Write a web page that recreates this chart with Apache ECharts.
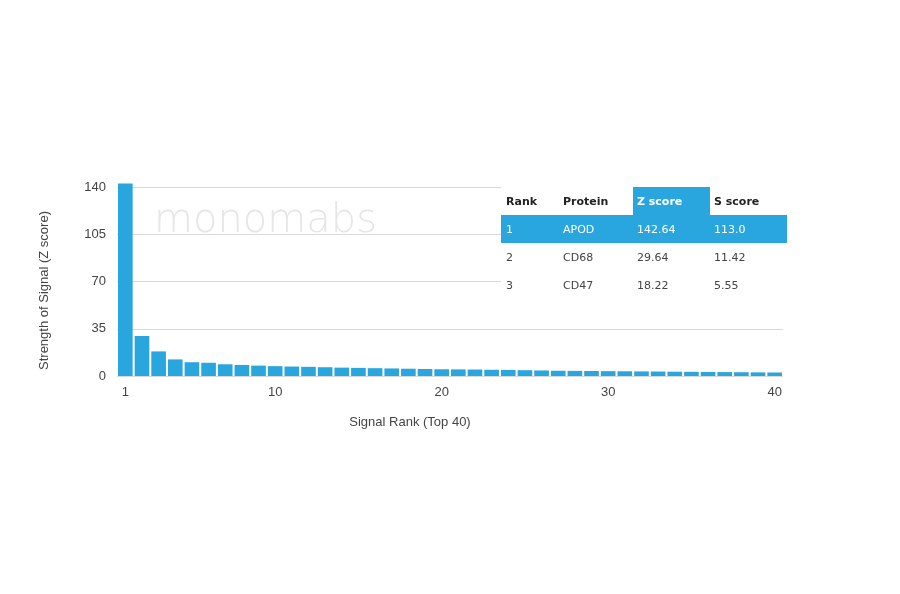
<!DOCTYPE html>
<html>
<head>
<meta charset="utf-8">
<script src="https://cdn.jsdelivr.net/npm/echarts@6/dist/echarts.min.js"></script>
<style>html,body{margin:0;padding:0;background:#fff;}#c{width:900px;height:594px;}</style>
</head>
<body>
<div id="c"></div>
<script>
const ranks = Array.from({length: 40}, (_, i) => String(i + 1));
const zScores = [142.64, 29.64, 18.22, 12.3, 10.2, 9.8, 8.7, 8.2, 7.7, 7.3,
  7.0, 6.8, 6.5, 6.2, 6.0, 5.8, 5.6, 5.4, 5.2, 5.0,
  4.9, 4.8, 4.6, 4.5, 4.3, 4.1, 3.9, 3.8, 3.7, 3.6,
  3.5, 3.4, 3.3, 3.2, 3.1, 3.0, 2.9, 2.8, 2.7, 2.6];
const yTicks = [0, 35, 70, 105, 140];
const xTickLabels = ['1', '10', '20', '30', '40'];
const tableHeader = ['Rank', 'Protein', 'Z score', 'S score'];
const tableRank = ['1', '2', '3'];
const tableProtein = ['APOD', 'CD68', 'CD47'];
const tableZ = ['142.64', '29.64', '18.22'];
const tableS = ['113.0', '11.42', '5.55'];

const blue = '#2aa6df';
const chart = echarts.init(document.getElementById('c'));

// table graphic
const tX = 501, tY = 187, tW = 286, rowH = 28;
const colX = [506, 563, 637, 714];
const zColLeft = 633, zColRight = 710;
const g = [];
g.push({type: 'rect', shape: {x: tX, y: tY - 1, width: tW, height: rowH * 4 + 1}, style: {fill: '#fff'}, z: 100});
g.push({type: 'rect', shape: {x: zColLeft, y: tY, width: zColRight - zColLeft, height: rowH}, style: {fill: blue}, z: 101});
g.push({type: 'rect', shape: {x: tX, y: tY + rowH, width: tW, height: rowH}, style: {fill: blue}, z: 101});
tableHeader.forEach((h, i) => {
  g.push({type: 'text', x: colX[i], y: tY + rowH / 2 + 1, z: 102,
    style: {text: h, fill: i === 2 ? '#fff' : '#222', font: 'bold 11px "DejaVu Sans"', verticalAlign: 'middle'}});
});
const cols = [tableRank, tableProtein, tableZ, tableS];
for (let r = 0; r < 3; r++) {
  cols.forEach((col, i) => {
    g.push({type: 'text', x: colX[i], y: tY + rowH * (r + 1) + rowH / 2 + 1, z: 102,
      style: {text: col[r], fill: r === 0 ? '#fff' : '#444', font: '11px "DejaVu Sans"', verticalAlign: 'middle'}});
  });
}
// watermark
g.push({type: 'text', x: 154, y: 222, z: 50,
  style: {text: 'monomabs', fill: '#e6e6e6', font: '200 40px "DejaVu Sans"', verticalAlign: 'middle'}});

chart.setOption({
  animation: false,
  backgroundColor: '#fff',
  grid: {left: 117, right: 117, top: 187, bottom: 218},
  xAxis: {
    type: 'category',
    data: ranks,
    name: 'Signal Rank (Top 40)',
    nameLocation: 'middle',
    nameGap: 40,
    nameTextStyle: {color: '#444', fontSize: 13, fontFamily: 'Liberation Sans', padding: [0, 80, 0, 0]},
    axisLine: {show: false},
    axisTick: {show: false},
    axisLabel: {
      color: '#444', fontSize: 13, fontFamily: 'Liberation Sans', margin: 10,
      interval: (idx, val) => xTickLabels.indexOf(val) >= 0
    }
  },
  yAxis: {
    type: 'value',
    min: yTicks[0], max: yTicks[yTicks.length - 1], interval: 35,
    name: 'Strength of Signal (Z score)',
    nameLocation: 'middle',
    nameGap: 66,
    nameTextStyle: {color: '#444', fontSize: 13, fontFamily: 'Liberation Sans', padding: [0, 18, 0, 0]},
    axisLine: {show: false},
    axisTick: {show: false},
    axisLabel: {color: '#444', fontSize: 13, fontFamily: 'Liberation Sans', margin: 11},
    splitLine: {lineStyle: {color: '#d9d9d9', width: 1}}
  },
  series: [{
    type: 'bar',
    data: zScores,
    clip: false,
    barCategoryGap: '12%',
    itemStyle: {color: blue}
  }],
  graphic: g
});
</script>
</body>
</html>
